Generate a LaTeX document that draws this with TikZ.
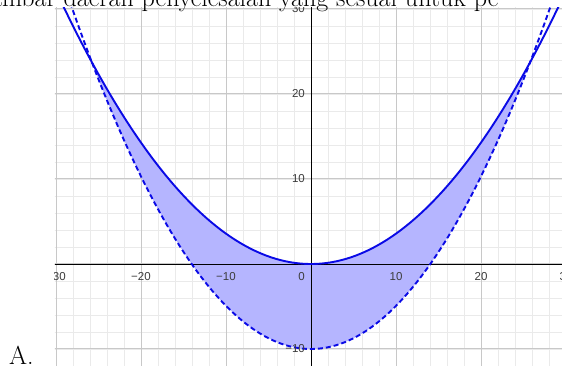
\documentclass[tikz,border=0pt]{standalone}
\usepackage{fontspec}
\newfontfamily\labfont{Liberation Sans}
\definecolor{gmaj}{RGB}{200,200,200}
\definecolor{gmin}{RGB}{234,234,234}
\definecolor{curvec}{RGB}{10,10,230}
\definecolor{regfill}{RGB}{181,181,255}
\definecolor{labc}{RGB}{60,60,60}
\begin{document}
\begin{tikzpicture}[x=1pt,y=1pt,
  minorgrid/.style={gmin, line width=0.8pt},
  majorgrid/.style={gmaj, line width=1pt},
  axisline/.style={black, line width=0.9pt},
  solidcurve/.style={curvec, line width=1.9pt},
  dashcurve/.style={curvec, line width=1.9pt, dash pattern=on 5pt off 3pt},
  ticklab/.style={font=\labfont\fontsize{11.5}{12}\selectfont, text=labc, inner sep=0pt},
  bigtext/.style={font=\fontsize{26}{30}\selectfont, inner sep=0pt}]
\clip (0,0) rectangle (562,366);
\fill[white] (0,0) rectangle (562,366);
\begin{scope}[shift={(311pt,102pt)}, x=8.5pt, y=8.5pt]
  \clip (-30.12,-12.1) rectangle (29.6,30.12);
  \draw[minorgrid] (-32,-14) grid[step=2] (32,32);
  \draw[majorgrid] (-40,-20) grid[step=10] (40,40);
  \fill[regfill] plot[domain=-25.78:25.78, samples=120] (\x,{\x*\x/28})
     -- plot[domain=25.78:-25.78, samples=120] (\x,{\x*\x/19.7-10}) -- cycle;
  \coordinate (xl) at (-31,0);
  \coordinate (xr) at (31,0);
  \coordinate (yb) at (0,-13);
  \coordinate (yt) at (0,31);
  \draw[axisline] (xl) -- (xr);
  \draw[axisline] (yb) -- (yt);
  \draw[solidcurve] plot[domain=-31:31, samples=160] (\x,{\x*\x/28});
  \draw[dashcurve] plot[domain=-31:31, samples=160] (\x,{\x*\x/19.7-10});
  % x tick labels
  \node[ticklab, anchor=north] (xm30) at (-30,-0.95) {−30};
  \node[ticklab, anchor=north] (xm20) at (-20,-0.95) {−20};
  \node[ticklab, anchor=north] (xm10) at (-10,-0.95) {−10};
  \node[ticklab, anchor=north east] (x0) at (-0.7,-0.95) {0};
  \node[ticklab, anchor=north] (x10) at (10,-0.95) {10};
  \node[ticklab, anchor=north] (x20) at (20,-0.95) {20};
  \node[ticklab, anchor=north] (x30) at (30,-0.95) {30};
  % y tick labels
  \node[ticklab, anchor=east] (y30) at (-0.7,30) {30};
  \node[ticklab, anchor=east] (y20) at (-0.7,20) {20};
  \node[ticklab, anchor=east] (y10) at (-0.7,10) {10};
  \node[ticklab, anchor=east] (ym10) at (-0.7,-10) {−10};
\end{scope}
\node[bigtext, anchor=base west] (title) at (-29,359.5) {Gambar daerah penyelesaian yang sesuai untuk pe};
\node[bigtext, anchor=base west] (optA) at (9,1.5) {A.};
\end{tikzpicture}
\end{document}
